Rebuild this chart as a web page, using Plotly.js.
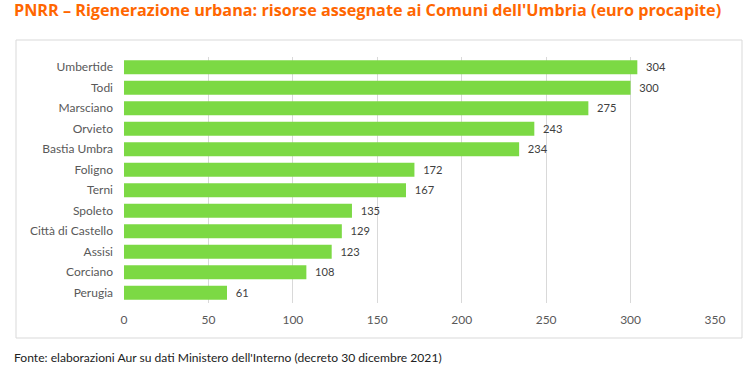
<!DOCTYPE html>
<html><head><meta charset="utf-8">
<script src="https://cdn.plot.ly/plotly-3.0.1.min.js"></script>
<style>html,body{margin:0;padding:0;background:#fff}#c{width:756px;height:374px}</style>
</head><body><div id="c"></div>
<script>
const comuni = ["Umbertide","Todi","Marsciano","Orvieto","Bastia Umbra","Foligno","Terni","Spoleto","Città di Castello","Assisi","Corciano","Perugia"];
const valori = [304,300,275,243,234,172,167,135,129,123,108,61];
const titolo = "PNRR – Rigenerazione urbana: risorse assegnate ai Comuni dell'Umbria (euro procapite)";
const fonte = "Fonte: elaborazioni Aur su dati Ministero dell'Interno (decreto 30 dicembre 2021)";
const xTicks = [0,50,100,150,200,250,300,350];

const trace = {
  type: "bar", orientation: "h",
  x: valori, y: comuni,
  marker: {color: "#7cd944"},
  text: valori.map(v => "  " + v), textposition: "outside",
  textfont: {family: "Lato, 'Open Sans', sans-serif", size: 12, color: "#404040"},
  cliponaxis: false, hoverinfo: "none", width: 0.68
};
const layout = {
  width: 756, height: 374,
  margin: {l: 124, r: 41, t: 57, b: 71},
  paper_bgcolor: "#fff", plot_bgcolor: "#fff",
  showlegend: false,
  font: {family: "Lato, 'Open Sans', sans-serif", size: 12, color: "#595959"},
  xaxis: {range: [0, 350], tickvals: xTicks, showgrid: true, gridcolor: "#d9d9d9", gridwidth: 1,
          zeroline: false, showline: false, ticks: "", ticklabelstandoff: 8, fixedrange: true},
  yaxis: {autorange: "reversed", showgrid: false, zeroline: false, showline: false, ticks: "",
          ticklabelstandoff: 10, fixedrange: true},
  shapes: [{type: "rect", xref: "paper", yref: "paper",
            x0: -108/591, x1: 1 + 27/591, y0: -35/246, y1: 1 + 17/246,
            line: {color: "#d9d9d9", width: 1}, layer: "below"}],
  annotations: [
    {text: "<b>" + titolo + "</b>", xref: "paper", yref: "paper", x: -112/591, y: 1 + 47/246,
     xanchor: "left", yanchor: "middle", showarrow: false,
     font: {family: "'Open Sans', Lato, sans-serif", size: 16.2, color: "#ff6600"}},
    {text: fonte, xref: "paper", yref: "paper", x: -112/591, y: -54/246,
     xanchor: "left", yanchor: "middle", showarrow: false,
     font: {family: "Lato, 'Open Sans', sans-serif", size: 12.1, color: "#222"}}
  ]
};
Plotly.newPlot("c", [trace], layout, {displayModeBar: false, staticPlot: true});
</script></body></html>
